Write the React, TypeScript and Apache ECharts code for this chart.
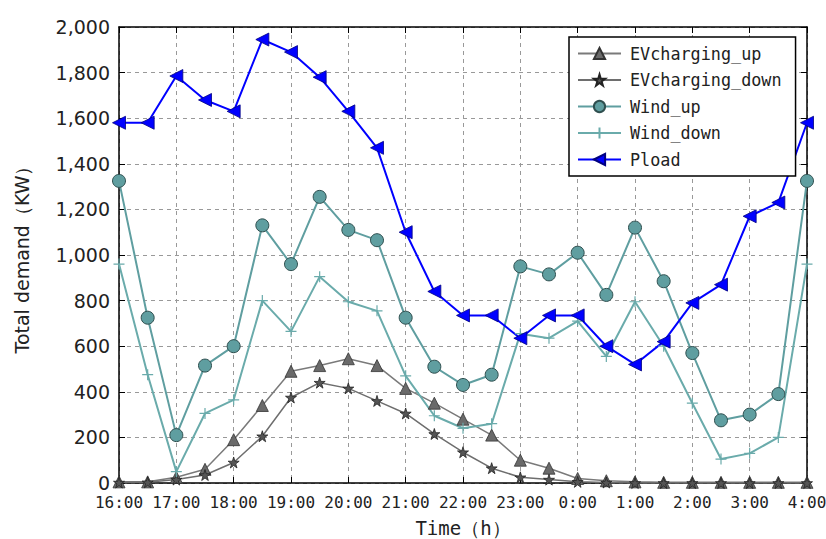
import React, { useEffect, useRef } from "react";
import * as echarts from "echarts";

const times = [
  "16:00", "16:30", "17:00", "17:30", "18:00", "18:30", "19:00", "19:30",
  "20:00", "20:30", "21:00", "21:30", "22:00", "22:30", "23:00", "23:30",
  "0:00", "0:30", "1:00", "1:30", "2:00", "2:30", "3:00", "3:30", "4:00",
];

const evUp = [5, 5, 25, 60, 190, 340, 490, 515, 545, 515, 415, 350, 280, 210, 100, 65, 20, 10, 5, 3, 3, 3, 3, 3, 3];
const evDown = [2, 3, 15, 35, 90, 205, 375, 440, 415, 360, 305, 215, 135, 65, 25, 15, 5, 2, 0, 0, 0, 0, 0, 0, 0];
const windUp = [1325, 725, 210, 515, 600, 1130, 960, 1255, 1110, 1065, 725, 510, 430, 475, 950, 915, 1010, 825, 1120, 885, 570, 275, 300, 390, 1325];
const windDown = [960, 475, 50, 305, 365, 800, 665, 905, 795, 755, 470, 295, 240, 260, 655, 635, 710, 555, 795, 600, 350, 105, 130, 200, 960];
const pload = [1580, 1580, 1785, 1680, 1630, 1945, 1890, 1780, 1630, 1470, 1100, 840, 735, 735, 635, 735, 735, 600, 520, 620, 790, 870, 1170, 1230, 1580];

const yTicks = { min: 0, max: 2000, interval: 200 };

const STAR = "path://M50,0 L61,35 L98,35 L68,57 L79,91 L50,70 L21,91 L32,57 L2,35 L39,35 Z";
const PLUS = "path://M5,0 L5,10 M0,5 L10,5";

export default function App() {
  const ref = useRef<HTMLDivElement>(null);
  useEffect(() => {
    if (!ref.current) return;
    const chart = echarts.init(ref.current, undefined, { renderer: "svg" });
    const mono = "'DejaVu Sans Mono', monospace";
    const sans = "'DejaVu Sans', sans-serif";
    const tickStyle = { show: true, inside: true, length: 6, lineStyle: { color: "#000", width: 1 } };
    const axisLine = { show: true, onZero: false, lineStyle: { color: "#000", width: 1.5 } };
    const split = { show: true, lineStyle: { color: "#999", type: [4, 4] as any, width: 1 } };
    chart.setOption({
      animation: false,
      backgroundColor: "#fff",
      grid: { left: 119, right: 19, top: 27, bottom: 56, containLabel: false, outerBoundsMode: "none" },
      legend: {
        orient: "vertical",
        left: 569,
        top: 37,
        padding: [8, 14, 8, 8],
        itemWidth: 43,
        itemHeight: 14,
        itemGap: 9.5,
        borderColor: "#000",
        borderWidth: 1.5,
        borderRadius: 0,
        backgroundColor: "#fff",
        textStyle: { fontFamily: mono, fontSize: 16.8, lineHeight: 17, color: "#222", padding: [0, 0, 0, 4] },
        data: ["EVcharging_up", "EVcharging_down", "Wind_up", "Wind_down", "Pload"],
      },
      xAxis: [
        {
          type: "category",
          data: times,
          boundaryGap: false,
          axisLine,
          axisTick: { ...tickStyle, interval: 1 },
          axisLabel: { interval: 1, fontFamily: mono, fontSize: 16, color: "#222", margin: 11 },
          splitLine: { ...split, interval: 1 },
          name: "Time（h）",
          nameLocation: "middle",
          nameGap: 35,
          nameTextStyle: { fontFamily: mono, fontSize: 19, color: "#222" },
        },
        {
          type: "category",
          data: times,
          boundaryGap: false,
          position: "top",
          axisLine,
          axisTick: { ...tickStyle, interval: 1 },
          axisLabel: { show: false },
          splitLine: { show: false },
        },
      ],
      yAxis: [
        {
          type: "value",
          ...yTicks,
          axisLine,
          axisTick: tickStyle,
          axisLabel: {
            fontFamily: sans,
            fontSize: 19,
            color: "#222",
            margin: 9,
            formatter: (v: number) => v.toLocaleString("en-US"),
          },
          splitLine: split,
          name: "Total demand（KW）",
          nameLocation: "middle",
          nameGap: 88,
          nameTextStyle: { fontFamily: sans, fontSize: 19, color: "#222" },
        },
        {
          type: "value",
          ...yTicks,
          position: "right",
          axisLine,
          axisTick: tickStyle,
          axisLabel: { show: false },
          splitLine: { show: false },
        },
      ],
      series: [
        {
          name: "EVcharging_up",
          type: "line",
          data: evUp,
          symbol: "triangle",
          symbolSize: 12,
          lineStyle: { color: "#7a7a7a", width: 1.5 },
          itemStyle: { color: "#6a6a6a", borderColor: "#333", borderWidth: 0.8 },
        },
        {
          name: "EVcharging_down",
          type: "line",
          data: evDown,
          symbol: STAR,
          symbolSize: 11,
          lineStyle: { color: "#6e6e6e", width: 1.5 },
          itemStyle: { color: "#555", borderColor: "#222", borderWidth: 0.8 },
        },
        {
          name: "Wind_up",
          type: "line",
          data: windUp,
          symbol: "circle",
          symbolSize: 13,
          lineStyle: { color: "#5f9ea0", width: 2 },
          itemStyle: { color: "#5f9ea0", borderColor: "#2f4f4f", borderWidth: 1 },
        },
        {
          name: "Wind_down",
          type: "line",
          data: windDown,
          symbol: PLUS,
          symbolSize: 11,
          lineStyle: { color: "#6aabab", width: 2 },
          itemStyle: { color: "rgba(0,0,0,0)", borderColor: "#6aabab", borderWidth: 1.2 },
        },
        {
          name: "Pload",
          type: "line",
          data: pload,
          symbol: "triangle",
          symbolRotate: 90,
          symbolSize: 13,
          lineStyle: { color: "#0000ff", width: 2 },
          itemStyle: { color: "#0000ff", borderColor: "#000080", borderWidth: 0.8 },
        },
      ],
    });
    return () => chart.dispose();
  }, []);
  return (
    <div
      ref={ref}
      style={{ position: "fixed", left: 0, top: 0, width: 826, height: 539, background: "#fff" }}
    />
  );
}
